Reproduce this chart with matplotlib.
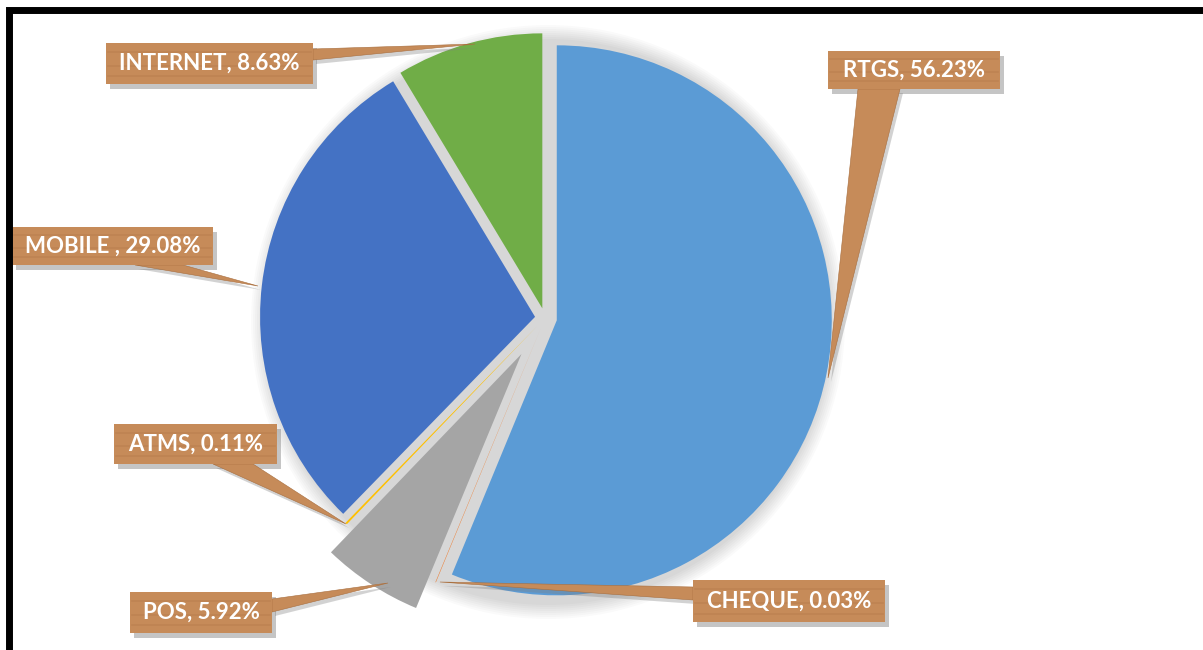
import matplotlib.pyplot as plt
from matplotlib.patches import Rectangle, Polygon, Circle

W, H = 1203, 650

# data
names = ["RTGS", "CHEQUE", "POS", "ATMS", "MOBILE ", "INTERNET"]
values = [56.23, 0.03, 5.92, 0.11, 29.08, 8.63]
colors = ["#5B9BD5", "#ED7D31", "#A5A5A5", "#FFC000", "#4472C4", "#70AD47"]
# pie offsets, in pixels
explode = [12, 11, 43, 11, 10, 10]

# label boxes in pixel coords: (x0, y0, x1, y1) and tails (base a, base b, tip)
boxes = {
    "RTGS": (828, 51, 1000, 89),
    "CHEQUE": (693, 580, 885, 622),
    "POS": (130, 592, 272, 633),
    "ATMS": (114, 424, 277, 464),
    "MOBILE ": (12, 227, 213, 265),
    "INTERNET": (106, 43, 313, 84),
}
tails = {
    "RTGS": ((858, 89), (900, 89), (828, 378)),
    "CHEQUE": ((693, 587), (693, 600), (440, 582)),
    "POS": ((272, 599), (272, 612), (388, 583)),
    "ATMS": ((213, 464), (253, 464), (346, 524)),
    "MOBILE ": ((135, 265), (183, 265), (258, 286)),
    "INTERNET": ((313, 49), (313, 60), (475, 44)),
}

wood = "#C68B59"
wood_dark = "#A86E3E"

fig = plt.figure(figsize=(W / 100, H / 100), dpi=100)
ax = fig.add_axes([0, 0, 1, 1])


def Y(py):
    return H - py


cx, cy, r = 545, Y(318), 275

# soft shadow behind the pie
for k in range(8):
    ax.add_patch(Circle((cx + 3, cy - 4), r + 22 - 2 * k, color="#000000",
                        alpha=0.018, lw=0, zorder=1))

ax.pie(values, colors=colors, explode=explode, startangle=90, counterclock=False,
       center=(cx, cy), radius=r, frame=True,
       wedgeprops=dict(linewidth=0, zorder=3))
ax.set_xlim(0, W)
ax.set_ylim(0, H)
ax.axis("off")

for name, v in zip(names, values):
    x0, y0, x1, y1 = boxes[name]
    a, b, tip = tails[name]
    # shadow
    ax.add_patch(Polygon([(a[0] + 3, Y(a[1]) - 4), (b[0] + 3, Y(b[1]) - 4),
                          (tip[0] + 3, Y(tip[1]) - 4)], closed=True,
                         color="#808080", alpha=0.35, lw=0, zorder=5))
    ax.add_patch(Rectangle((x0 + 4, Y(y1) - 5), x1 - x0, y1 - y0,
                           color="#808080", alpha=0.45, lw=0, zorder=5))
    ax.add_patch(Polygon([(a[0], Y(a[1])), (b[0], Y(b[1])), (tip[0], Y(tip[1]))],
                         closed=True, facecolor=wood, edgecolor=wood_dark,
                         lw=0.4, zorder=6))
    ax.add_patch(Rectangle((x0, Y(y1)), x1 - x0, y1 - y0, facecolor=wood,
                           edgecolor="none", zorder=7))
    # a few darker grain streaks
    for f in (0.22, 0.55, 0.8):
        yy = Y(y0 + f * (y1 - y0))
        ax.plot([x0 + 2, x1 - 2], [yy, yy], color=wood_dark, alpha=0.25,
                lw=1.2, zorder=7.5)
    ax.text((x0 + x1) / 2, Y((y0 + y1) / 2), f"{name}, {v:.2f}%",
            ha="center", va="center", color="white", fontsize=16,
            fontweight="bold", family=["Lato", "DejaVu Sans"], zorder=8)

# black frame (right and bottom edges are off the picture)
ax.add_patch(Rectangle((9, -20), W + 20, Y(10) + 20, fill=False,
                       edgecolor="black", lw=5, zorder=10))

fig.savefig("out.png", dpi=100)
